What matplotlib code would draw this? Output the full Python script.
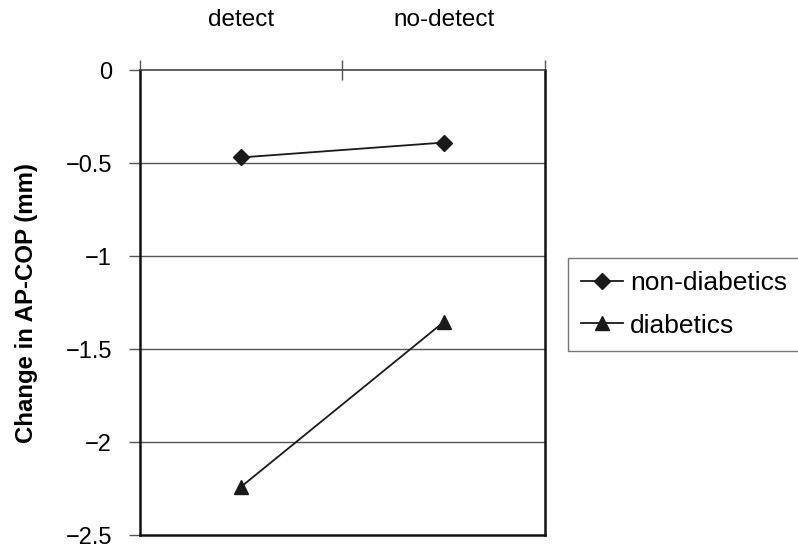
import numpy as np
import matplotlib.pyplot as plt

categories = ['detect', 'no-detect']
non_diabetics = [-0.47, -0.39]
diabetics = [-2.24, -1.355]
yticks = [0, -0.5, -1, -1.5, -2, -2.5]

plt.rcParams['font.family'] = ['Liberation Sans', 'DejaVu Sans']

fig = plt.figure(figsize=(7.98, 5.44), dpi=100)
ax = fig.add_axes([0.1754, 0.0165, 0.5075, 0.8548])

x = np.arange(len(categories)) + 0.5
ax.plot(x, non_diabetics, color='#1a1a1a', lw=1.3, marker='D', ms=8.5,
        label='non-diabetics')
ax.plot(x, diabetics, color='#1a1a1a', lw=1.3, marker='^', ms=10,
        label='diabetics')

ax.set_xlim(0, len(categories))
ax.set_ylim(-2.5, 0)

# horizontal gridlines
for yv in yticks[1:-1]:
    ax.axhline(yv, color='#555555', lw=1, zorder=0)

# category axis on top at y=0
ax.xaxis.tick_top()
ax.set_xticks(np.arange(len(categories) + 1))
ax.set_xticklabels([])
ax.set_xticks(x, minor=True)
ax.set_xticklabels(categories, minor=True, fontsize=17.5)
ax.tick_params(axis='x', which='major', direction='inout', length=14,
               width=1, color='#555555')
ax.tick_params(axis='x', which='minor', length=0, pad=28)

ax.set_yticks(yticks)
ax.set_yticklabels(['0', '\u22120.5', '\u22121', '\u22121.5', '\u22122', '\u22122.5'],
                   fontsize=17)
ax.tick_params(axis='y', direction='out', length=8, width=1, color='#555555',
               pad=12)

for s in ['left', 'right', 'bottom']:
    ax.spines[s].set_color('#111111')
    ax.spines[s].set_linewidth(1.8)
ax.spines['top'].set_color('#444444')
ax.spines['top'].set_linewidth(1.2)

ax.set_ylabel('Change in AP-COP (mm)', fontsize=17.3, fontweight='bold',
              labelpad=20)

leg = fig.legend(loc='upper left', bbox_to_anchor=(568 / 798, 1 - 258 / 544),
                 fontsize=19, frameon=True, fancybox=False, handlelength=1.6,
                 borderpad=0.5, labelspacing=0.7, handletextpad=0.25,
                 borderaxespad=0)
leg.get_frame().set_edgecolor('#555555')
leg.get_frame().set_linewidth(1)

fig.savefig('out.png', dpi=100)
